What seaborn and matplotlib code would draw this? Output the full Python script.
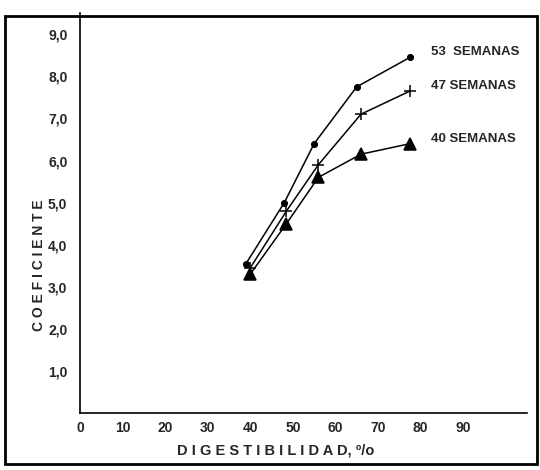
import matplotlib.pyplot as plt
import matplotlib.patches as mpatches
import seaborn as sns
import pandas as pd

# values
dig_53 = [39.0, 48.0, 55.0, 65.0, 77.5]
coef_53 = [3.55, 5.0, 6.4, 7.75, 8.45]
dig_47 = [40.0, 48.5, 56.0, 66.0, 77.5]
coef_47 = [3.45, 4.8, 5.9, 7.1, 7.65]
dig_40 = [40.0, 48.5, 56.0, 66.0, 77.5]
coef_40 = [3.3, 4.5, 5.6, 6.15, 6.4]
series_labels = ['53  SEMANAS', '47 SEMANAS', '40 SEMANAS']
y_ticks = [1, 2, 3, 4, 5, 6, 7, 8, 9]
y_tick_labels = ['1,0', '2,0', '3,0', '4,0', '5,0', '6,0', '7,0', '8,0', '9,0']
x_ticks = [0, 10, 20, 30, 40, 50, 60, 70, 80, 90]

df = pd.DataFrame({
    'dig': dig_53 + dig_47 + dig_40,
    'coef': coef_53 + coef_47 + coef_40,
    'serie': [series_labels[0]] * 5 + [series_labels[1]] * 5 + [series_labels[2]] * 5,
})

sns.set_style('white')
plt.rcParams['font.family'] = ['Liberation Sans', 'DejaVu Sans']
plt.rcParams['font.weight'] = 'bold'

fig = plt.figure(figsize=(5.4, 4.7), dpi=100)
ax = fig.add_axes([0.148, 0.121, 0.828, 0.851])

markers = {series_labels[0]: 'o', series_labels[1]: '+', series_labels[2]: '^'}
sizes = {series_labels[0]: 4, series_labels[1]: 8, series_labels[2]: 8}
for name in series_labels:
    sub = df[df['serie'] == name]
    sns.lineplot(data=sub, x='dig', y='coef', ax=ax, color='black', lw=1.1,
                 marker=markers[name], markersize=sizes[name],
                 markeredgewidth=1.1, markeredgecolor='black', sort=False)
    last = sub.iloc[-1]
    ax.text(last['dig'] + 5, last['coef'] + 0.12, name, fontsize=9.5,
            fontweight='bold', va='center', ha='left')

ax.set_xlim(0, 105)
ax.set_ylim(0, 9.5)
ax.set_xticks(x_ticks)
ax.set_xticklabels([str(v) for v in x_ticks])
ax.set_yticks(y_ticks)
ax.set_yticklabels(y_tick_labels)
ax.tick_params(direction='in', length=3, width=1, labelsize=10)
ax.tick_params(axis='y', pad=9)
ax.tick_params(axis='x', pad=6)
for lab in ax.get_xticklabels() + ax.get_yticklabels():
    lab.set_fontweight('bold')
ax.set_xlabel('')
ax.set_ylabel('')
ax.spines['top'].set_visible(False)
ax.spines['right'].set_visible(False)
for s in ['left', 'bottom']:
    ax.spines[s].set_linewidth(1.2)
    ax.spines[s].set_color('black')

fig.text(0.072, 0.435, 'C O E F I C I E N T E', rotation=90, fontsize=10,
         fontweight='bold', ha='center', va='center')
fig.text(0.51, 0.042, 'D I G E S T I B I L I D A D, º/o', fontsize=10.5,
         fontweight='bold', ha='center', va='center')

# outer frame of the figure
frame = mpatches.Rectangle((0.009, 0.012), 0.985, 0.955, transform=fig.transFigure,
                           fill=False, lw=2, edgecolor='black')
fig.patches.append(frame)

plt.savefig('out.png', dpi=100)
plt.close()
